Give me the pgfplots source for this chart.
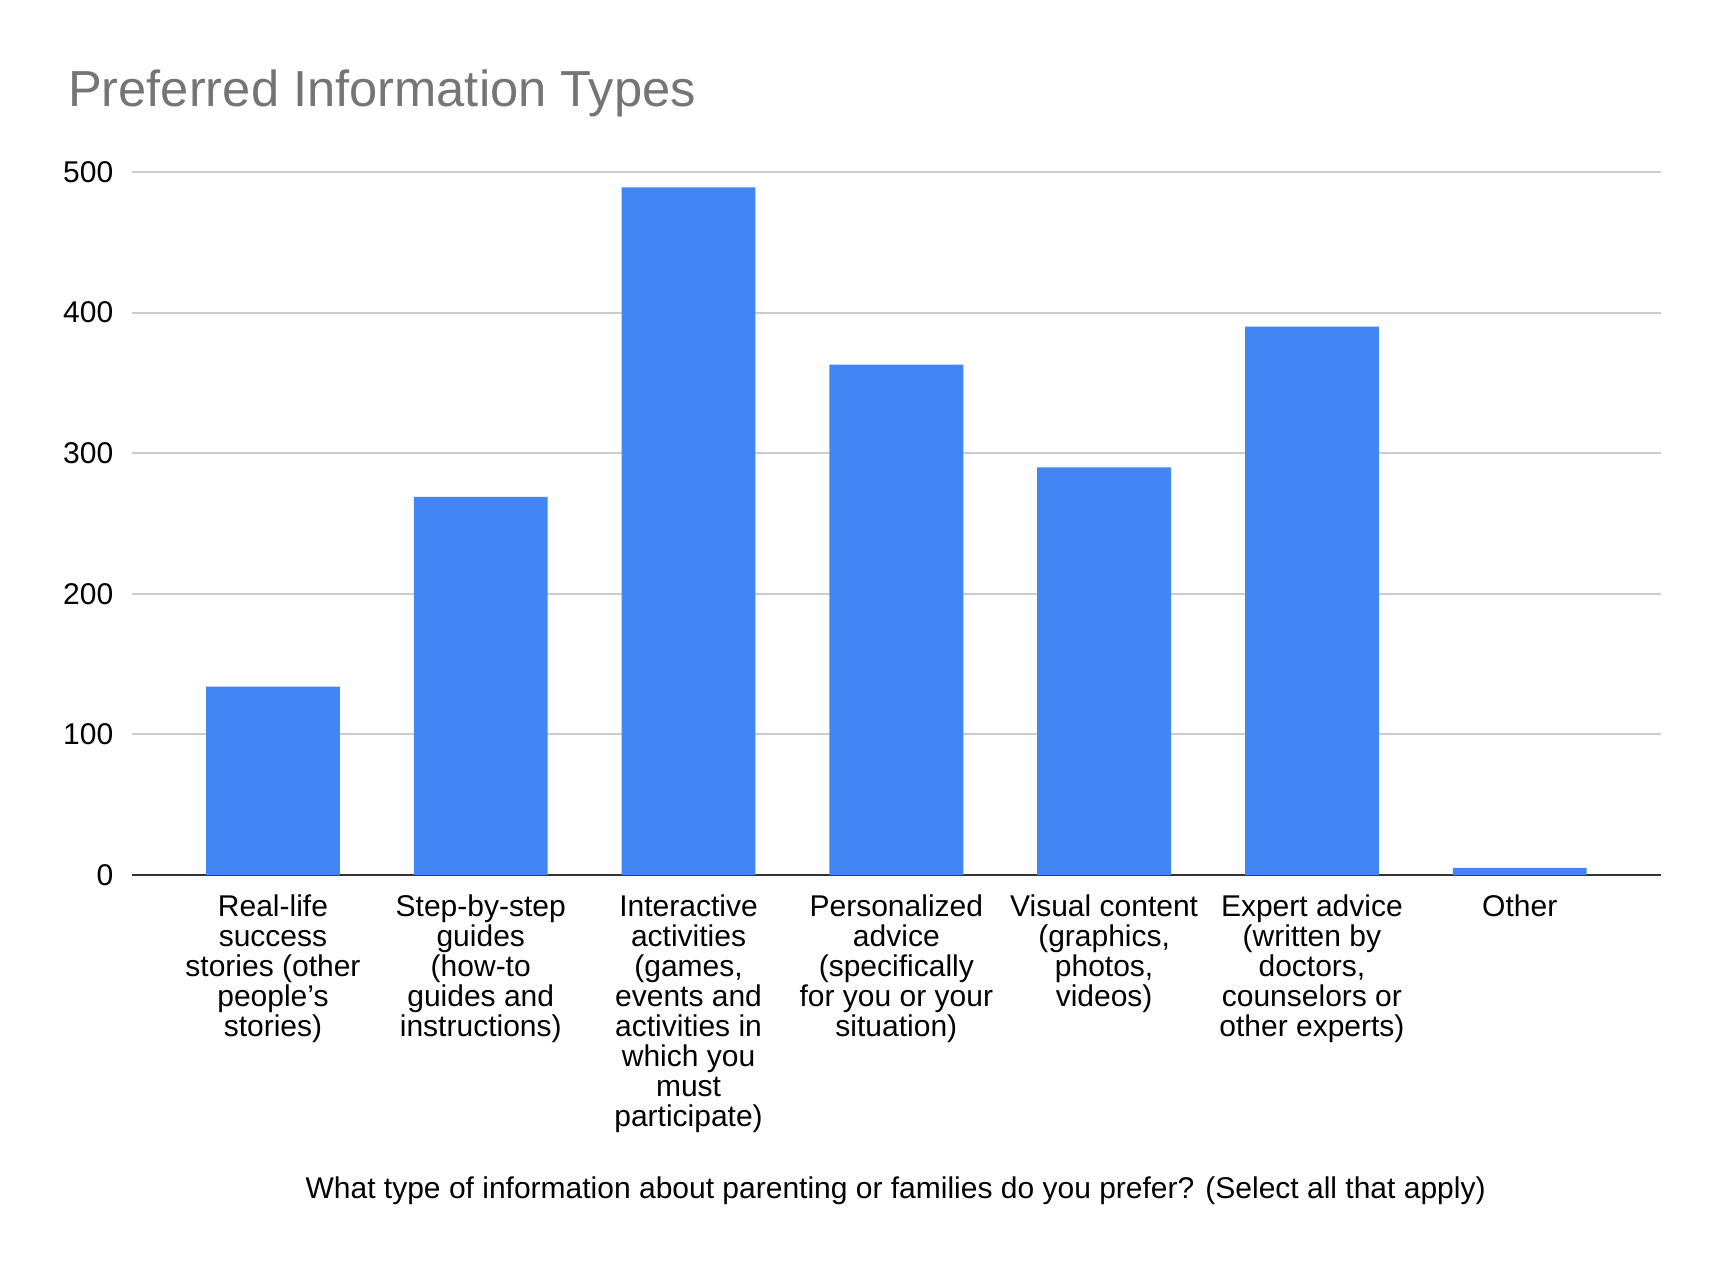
\documentclass[border=0pt]{standalone}
\usepackage{pgfplots}
\pgfplotsset{compat=1.18}
\usepackage{fontspec}
\setmainfont{Liberation Sans}
\definecolor{barblue}{HTML}{4285F4}
\definecolor{gridgray}{HTML}{CCCCCC}
\definecolor{titlegray}{HTML}{757575}
\begin{document}
\begin{tikzpicture}
\useasboundingbox (0,0) rectangle (515.7pt,-380.4pt);
\node[anchor=base west, text=titlegray, inner sep=0pt, font=\fontsize{15.2}{17}\selectfont] at (20.2pt,-31.9pt) {Preferred Information Types};
\begin{axis}[
  at={(39.5pt,-262.5pt)}, anchor=south west,
  scale only axis, width=458.8pt, height=210.9pt,
  ymin=0, ymax=500, ytick={0,100,200,300,400,500},
  xmin=-0.68, xmax=6.68,
  xtick={0,1,2,3,4,5,6},
  xticklabels={
    {Real-life\\success\\stories (other\\people’s\\stories)},
    {Step-by-step\\guides\\(how-to\\guides and\\instructions)},
    {Interactive\\activities\\(games,\\events and\\activities in\\which you\\must\\participate)},
    {Personalized\\advice\\(specifically\\for you or your\\situation)},
    {Visual content\\(graphics,\\photos,\\videos)},
    {Expert advice\\(written by\\doctors,\\counselors or\\other experts)},
    {Other}},
  xticklabel style={align=center, font=\fontsize{9}{9}\selectfont, yshift=-2.3pt},
  yticklabel style={font=\fontsize{9}{10}\selectfont, xshift=-2pt},
  /pgf/number format/assume math mode=true,
  major tick length=0pt,
  ymajorgrids, grid style={gridgray, line width=0.6pt},
  axis x line*=bottom, axis y line*=left,
  axis line style={-},
  y axis line style={draw=none},
  x axis line style={draw=black!80, line width=0.8pt},
  ybar, bar width=0.644,
]
\addplot[fill=barblue, draw=none] coordinates {
  (0,134) (1,269) (2,489) (3,363) (4,290) (5,390) (6,5)
};
\end{axis}
\node[anchor=base, inner sep=0pt, font=\fontsize{9}{10}\selectfont] at (268.7pt,-359.5pt) {What type of information about parenting or families do you prefer? (Select all that apply)};
\end{tikzpicture}
\end{document}
